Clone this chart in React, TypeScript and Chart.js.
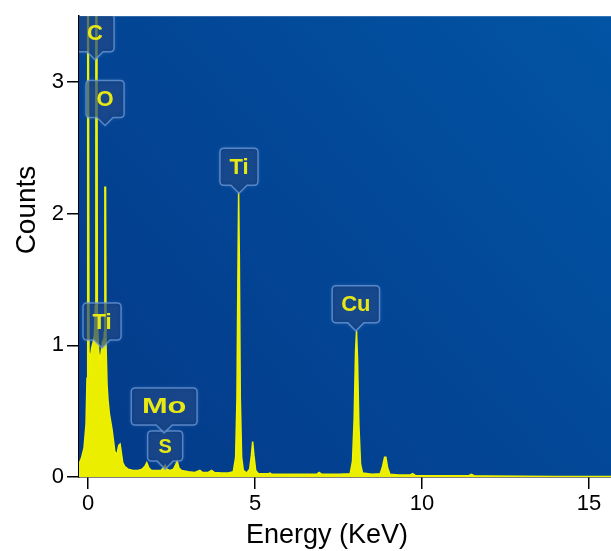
import React, { useEffect, useRef } from "react";
import { Chart, registerables } from "chart.js";

Chart.register(...registerables);

// Spectrum: energy (keV) and counts
const energies = [
  -0.27, -0.2, -0.12, -0.06, -0.03, -0.01, 0.01, 0.03, 0.07, 0.11, 0.15, 0.19, 0.22, 0.235, 0.265, 0.28,
  0.32, 0.36, 0.4, 0.43, 0.46, 0.49, 0.505, 0.525, 0.54, 0.57, 0.6, 0.64, 0.68, 0.72, 0.76, 0.8,
  0.84, 0.88, 0.92, 0.96, 1.0, 1.04, 1.1, 1.2, 1.35, 1.5, 1.62, 1.7, 1.76, 1.82, 1.9, 2.05,
  2.18, 2.26, 2.31, 2.36, 2.45, 2.56, 2.62, 2.67, 2.72, 2.8, 3.0, 3.2, 3.35, 3.42, 3.6, 3.7,
  3.78, 4.0, 4.2, 4.35, 4.42, 4.46, 4.49, 4.51, 4.53, 4.56, 4.6, 4.65, 4.75, 4.84, 4.89, 4.93,
  4.97, 5.02, 5.1, 5.4, 5.45, 5.5, 6.0, 6.4, 6.85, 6.92, 7.0, 7.5, 7.85, 7.92, 7.97, 8.01,
  8.04, 8.07, 8.11, 8.16, 8.22, 8.5, 8.75, 8.82, 8.88, 8.92, 8.97, 9.04, 9.3, 9.65, 9.72, 9.8,
  10.5, 11.4, 11.48, 11.56, 12.0, 13.0, 14.0, 15.0, 15.7,
];
const counts = [
  0.1, 0.14, 0.22, 0.4, 0.75, 3.8, 3.8, 0.95, 0.9, 0.98, 1.02, 1.08, 1.3, 3.8, 3.8, 1.2,
  0.95, 0.88, 0.96, 1.02, 0.98, 1.1, 2.2, 2.2, 1.0, 0.7, 0.58, 0.48, 0.42, 0.36, 0.28, 0.2,
  0.17, 0.19, 0.24, 0.25, 0.18, 0.11, 0.08, 0.06, 0.05, 0.05, 0.06, 0.08, 0.11, 0.07, 0.05, 0.05,
  0.05, 0.07, 0.09, 0.06, 0.05, 0.06, 0.09, 0.12, 0.07, 0.05, 0.04, 0.035, 0.05, 0.035, 0.035, 0.05,
  0.035, 0.03, 0.03, 0.04, 0.15, 0.6, 1.6, 2.16, 1.7, 0.6, 0.15, 0.05, 0.03, 0.06, 0.16, 0.27,
  0.16, 0.05, 0.025, 0.025, 0.03, 0.02, 0.02, 0.02, 0.02, 0.035, 0.02, 0.02, 0.025, 0.12, 0.45, 0.95,
  1.11, 0.9, 0.4, 0.1, 0.03, 0.02, 0.025, 0.08, 0.15, 0.15, 0.07, 0.02, 0.015, 0.015, 0.025, 0.012,
  0.01, 0.01, 0.02, 0.01, 0.007, 0.005, 0.004, 0.003, 0.003,
];

const xTicks = [0, 5, 10, 15];
const yTicks = [0, 1, 2, 3];

// Element markers: name and the point (keV, counts) the marker points to
const peakNames = ["C", "O", "Ti", "S", "Mo", "Ti", "Cu"];
const peakEnergies = [0.21, 0.51, 0.42, 2.31, 2.28, 4.52, 8.02];
const peakCounts = [3.17, 2.67, 0.98, 0.06, 0.335, 2.155, 1.11];

const FONT = "'Liberation Sans', Arial, sans-serif";

const bgPlugin = {
  id: "bg",
  beforeDatasetsDraw(chart: any) {
    const { ctx, chartArea: a } = chart;
    const g = ctx.createLinearGradient(a.left, a.bottom, a.right, a.top);
    g.addColorStop(0, "rgb(3,58,136)");
    g.addColorStop(0.5, "rgb(3,70,150)");
    g.addColorStop(1, "rgb(2,84,164)");
    ctx.save();
    ctx.fillStyle = g;
    ctx.fillRect(a.left, a.top, a.right - a.left, a.bottom - a.top);
    ctx.restore();
  },
};

const markerPlugin = {
  id: "markers",
  afterDatasetsDraw(chart: any) {
    const { ctx, chartArea: a, scales } = chart;
    ctx.save();
    ctx.beginPath();
    ctx.rect(a.left, a.top, a.right - a.left, a.bottom - a.top);
    ctx.clip();
    peakNames.forEach((name, i) => {
      const px = scales.x.getPixelForValue(peakEnergies[i]);
      const py = scales.y.getPixelForValue(peakCounts[i]);
      const small = name === "S";
      const fontSize = small ? 20 : 22;
      ctx.font = `bold ${fontSize}px ${FONT}`;
      const tw = ctx.measureText(name).width;
      const w = small ? 35 : Math.max(38, tw + (name === "Mo" ? 34 : 18));
      const h = small ? 30 : 37;
      const ph = 8;
      const bottom = py - ph;
      const top = bottom - h;
      const left = px - w / 2;
      const right = px + w / 2;
      const r = 4;
      ctx.beginPath();
      ctx.moveTo(left + r, top);
      ctx.lineTo(right - r, top);
      ctx.quadraticCurveTo(right, top, right, top + r);
      ctx.lineTo(right, bottom - r);
      ctx.quadraticCurveTo(right, bottom, right - r, bottom);
      ctx.lineTo(px + 8, bottom);
      ctx.lineTo(px, bottom + ph);
      ctx.lineTo(px - 8, bottom);
      ctx.lineTo(left + r, bottom);
      ctx.quadraticCurveTo(left, bottom, left, bottom - r);
      ctx.lineTo(left, top + r);
      ctx.quadraticCurveTo(left, top, left + r, top);
      ctx.closePath();
      ctx.fillStyle = "rgba(10,48,110,0.55)";
      ctx.shadowColor = "rgba(120,170,235,0.6)";
      ctx.shadowBlur = 4;
      ctx.fill();
      ctx.shadowBlur = 0;
      ctx.strokeStyle = "rgba(105,150,210,0.8)";
      ctx.lineWidth = 1.5;
      ctx.stroke();
      ctx.fillStyle = "rgb(232,232,20)";
      ctx.textAlign = "center";
      ctx.textBaseline = "middle";
      if (name === "Mo") {
        ctx.save();
        ctx.translate(px, top + h / 2 + 1);
        ctx.scale(1.4, 1);
        ctx.fillText(name, 0, 0);
        ctx.restore();
      } else {
        ctx.fillText(name, px, top + h / 2 + 1);
      }
    });
    ctx.restore();
  },
};

const titlePlugin = {
  id: "titles",
  afterDraw(chart: any) {
    const { ctx } = chart;
    ctx.save();
    ctx.fillStyle = "#000";
    ctx.font = `28px ${FONT}`;
    ctx.textAlign = "center";
    ctx.textBaseline = "alphabetic";
    ctx.translate(35, 210);
    ctx.rotate(-Math.PI / 2);
    ctx.fillText("Counts", 0, 0);
    ctx.restore();
    ctx.save();
    ctx.fillStyle = "#000";
    ctx.font = `27px ${FONT}`;
    ctx.textAlign = "center";
    ctx.textBaseline = "alphabetic";
    ctx.fillText("Energy (KeV)", 327, 543);
    ctx.restore();
  },
};

export default function App() {
  const ref = useRef<HTMLCanvasElement | null>(null);
  useEffect(() => {
    document.body.style.margin = "0";
    const canvas = ref.current!;
    const chart = new Chart(canvas, {
      type: "line",
      data: {
        datasets: [
          {
            data: energies.map((e, i) => ({ x: e, y: counts[i] })),
            borderColor: "rgb(240,242,0)",
            backgroundColor: "rgb(236,238,0)",
            borderWidth: 1.5,
            fill: "origin",
            pointRadius: 0,
            tension: 0,
          },
        ],
      },
      options: {
        animation: false,
        responsive: false,
        devicePixelRatio: 1,
        layout: { padding: { top: 16, left: 0, right: 0, bottom: 0 } },
        plugins: { legend: { display: false }, tooltip: { enabled: false } },
        scales: {
          x: {
            type: "linear",
            min: -0.27,
            max: 15.66,
            afterBuildTicks: (s: any) => {
              s.ticks = xTicks.map((v) => ({ value: v }));
            },
            afterFit: (s: any) => {
              s.height = 74;
            },
            ticks: {
              font: { family: FONT, size: 22 },
              color: "#000",
              padding: 2,
              maxRotation: 0,
              autoSkip: false,
            },
            grid: { drawOnChartArea: false, drawTicks: true, tickLength: 12, color: "#000", lineWidth: 1.5 },
            border: { display: true, color: "#000", width: 1.5 },
          },
          y: {
            type: "linear",
            min: 0,
            max: 3.5,
            afterBuildTicks: (s: any) => {
              s.ticks = yTicks.map((v) => ({ value: v }));
            },
            afterFit: (s: any) => {
              s.width = 79;
            },
            ticks: {
              font: { family: FONT, size: 22 },
              color: "#000",
              padding: 3,
              autoSkip: false,
            },
            grid: { drawOnChartArea: false, drawTicks: true, tickLength: 12, color: "#000", lineWidth: 1.5 },
            border: { display: true, color: "#000", width: 1.5 },
          },
        },
      },
      plugins: [bgPlugin, markerPlugin, titlePlugin],
    } as any);
    return () => chart.destroy();
  }, []);
  return (
    <div style={{ width: 611, height: 551 }}>
      <canvas ref={ref} width={611} height={551} style={{ width: 611, height: 551, display: "block" }} />
    </div>
  );
}
